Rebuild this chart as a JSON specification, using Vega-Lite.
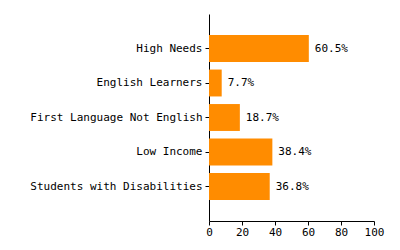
{
  "$schema": "https://vega.github.io/schema/vega-lite/v6.json",
  "autosize": "none",
  "width": 165,
  "height": 207,
  "padding": {"left": 209, "top": 14, "right": 26, "bottom": 29},
  "background": "white",
  "config": {"view": {"stroke": null}, "font": "DejaVu Sans Mono"},
  "data": {"values": [
    {"group": "High Needs", "pct": 60.5, "label": "60.5%"},
    {"group": "English Learners", "pct": 7.7, "label": "7.7%"},
    {"group": "First Language Not English", "pct": 18.7, "label": "18.7%"},
    {"group": "Low Income", "pct": 38.4, "label": "38.4%"},
    {"group": "Students with Disabilities", "pct": 36.8, "label": "36.8%"}
  ]},
  "encoding": {
    "y": {"field": "group", "type": "nominal", "sort": null,
      "scale": {"paddingInner": 0.22, "paddingOuter": 0.61},
      "axis": {"title": null, "domainColor": "#000", "tickColor": "#000", "tickSize": 4, "labelPadding": 3, "labelFont": "DejaVu Sans Mono", "labelFontSize": 11, "labelColor": "#000"}},
    "x": {"field": "pct", "type": "quantitative", "scale": {"domain": [0, 100]},
      "axis": {"title": null, "values": [0, 20, 40, 60, 80, 100], "grid": false, "labelFlush": false, "labelOverlap": false, "labelBound": false, "domainColor": "#000", "tickColor": "#000", "tickSize": 4, "labelPadding": 1, "labelFont": "DejaVu Sans Mono", "labelFontSize": 11, "labelColor": "#000"}}
  },
  "layer": [
    {"mark": {"type": "bar", "color": "#FF8C00"}},
    {"mark": {"type": "text", "align": "left", "dx": 6, "fontSize": 11, "font": "DejaVu Sans Mono", "color": "#000"},
     "encoding": {"text": {"field": "label", "type": "nominal"}}}
  ]
}
